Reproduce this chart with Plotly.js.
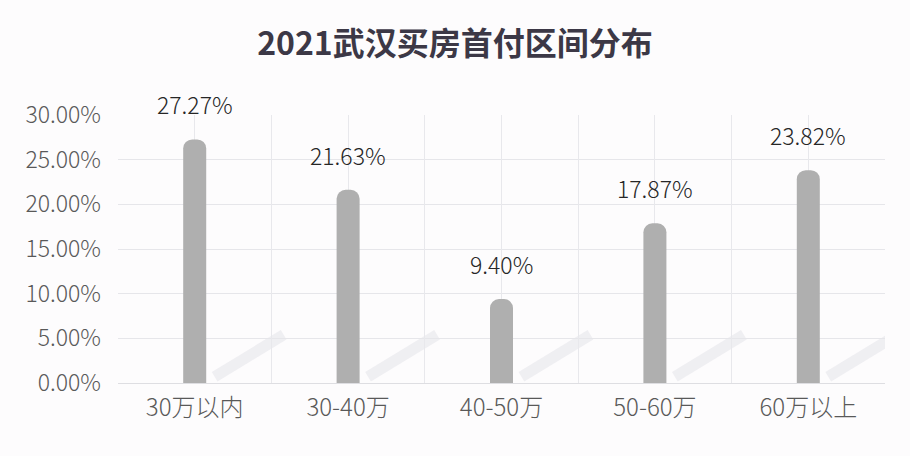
<!DOCTYPE html>
<html><head><meta charset="utf-8">
<script src="https://cdn.plot.ly/plotly-3.0.1.min.js"></script>
<style>html,body{margin:0;padding:0;background:#fdfcfd;}#chart{width:910px;height:456px;}</style>
</head><body><div id="chart"></div>
<script>
const categories = ["30万以内", "30-40万", "40-50万", "50-60万", "60万以上"];
const shares = [27.27, 21.63, 9.40, 17.87, 23.82];
const yTickVals = [0, 5, 10, 15, 20, 25, 30];
const yTickText = ["0.00%", "5.00%", "10.00%", "15.00%", "20.00%", "25.00%", "30.00%"];
const chartTitle = "2021武汉买房首付区间分布";

const FONT = '"Noto Sans CJK SC", "Noto Sans", sans-serif';
const idx = categories.map((c, i) => i);

const bars = {
  type: 'bar', x: categories, y: shares, width: 0.15,
  marker: { color: '#afafaf', cornerradius: 9 },
  hoverinfo: 'skip', xaxis: 'x', yaxis: 'y'
};
const gridHelper = {
  type: 'scatter', mode: 'markers', x: [-0.5, 4.5], y: [0, 0],
  marker: { opacity: 0 }, xaxis: 'x2', yaxis: 'y', hoverinfo: 'skip', showlegend: false
};

const annotations = categories.map((c, i) => ({
  x: c, y: shares[i], xref: 'x', yref: 'y', text: shares[i].toFixed(2) + '%',
  showarrow: false, yanchor: 'middle', yshift: 35,
  font: { family: FONT, size: 23, color: '#262626', weight: 300 }
}));

const shapes = idx.map(i => ({
  type: 'line', xref: 'x2', yref: 'y',
  x0: i + 0.13, y0: 0.7, x1: i + 0.58, y1: 5.4,
  line: { color: 'rgba(205,205,215,0.28)', width: 11 }, layer: 'below'
}));

const layout = {
  width: 910, height: 456,
  paper_bgcolor: '#fdfcfd', plot_bgcolor: '#fdfcfd',
  margin: { l: 118, r: 25, t: 115, b: 73 },
  showlegend: false,
  title: { text: '<b>' + chartTitle + '</b>', x: 0.5, xanchor: 'center', y: 0.905, yanchor: 'middle',
           font: { family: FONT, size: 32, color: '#3c3846' } },
  xaxis: { type: 'category', showgrid: false, zeroline: false, showline: false,
           ticks: '', tickfont: { family: FONT, size: 24, color: '#595959', weight: 300 }, ticklabelstandoff: 8 },
  xaxis2: { overlaying: 'x', range: [-0.5, 4.5], tick0: -0.5, dtick: 0.5, showgrid: true,
            gridcolor: '#e8e8ec', gridwidth: 1, showticklabels: false, zeroline: false, ticks: '' },
  yaxis: { range: [0, 30], tickvals: yTickVals, ticktext: yTickText, showgrid: true,
           gridcolor: '#e6e6ea', gridwidth: 1, zeroline: true, zerolinecolor: '#dedee2',
           ticks: '', tickfont: { family: FONT, size: 23, color: '#595959', weight: 300 }, ticklabelstandoff: 16 },
  annotations: annotations,
  shapes: shapes
};

Plotly.newPlot('chart', [gridHelper, bars], layout, { displayModeBar: false, staticPlot: true });
</script></body></html>
